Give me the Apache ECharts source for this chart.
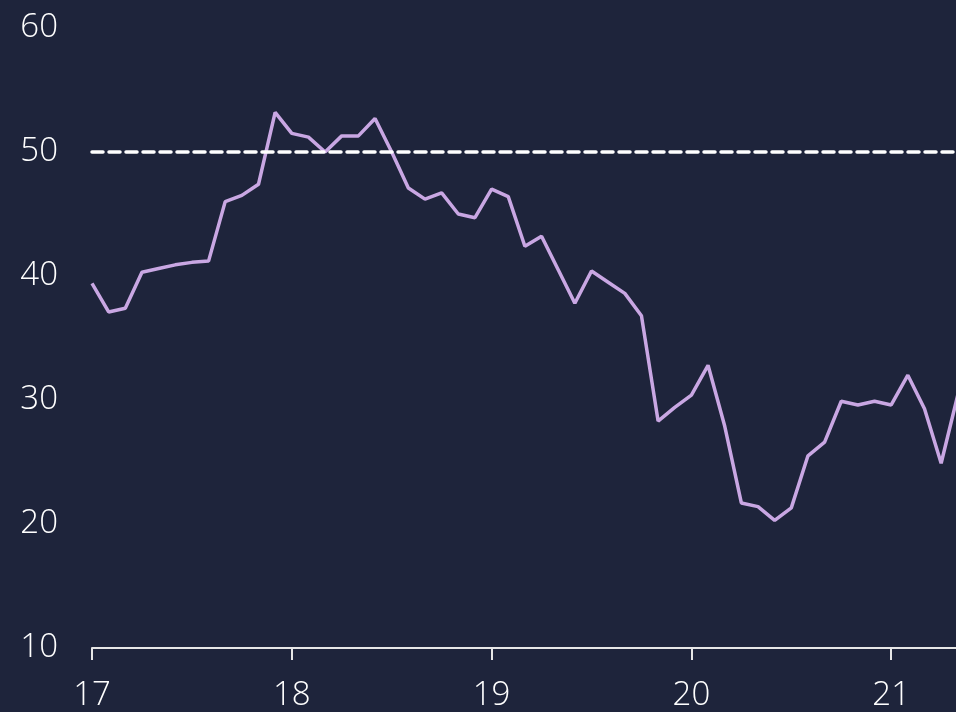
<!DOCTYPE html>
<html>
<head>
<meta charset="utf-8">
<script src="https://cdn.jsdelivr.net/npm/echarts@6/dist/echarts.min.js"></script>
<style>
html,body{margin:0;padding:0;background:#1e243b;overflow:hidden;width:956px;height:712px;position:relative;}
#chart{position:absolute;left:0;top:0;width:1200px;height:712px;}
</style>
</head>
<body>
<div id="chart"></div>
<script>
// Monthly categories, Jan 2017 .. Jan 2022
var categories = [
 '17-01','17-02','17-03','17-04','17-05','17-06','17-07','17-08','17-09','17-10','17-11','17-12',
 '18-01','18-02','18-03','18-04','18-05','18-06','18-07','18-08','18-09','18-10','18-11','18-12',
 '19-01','19-02','19-03','19-04','19-05','19-06','19-07','19-08','19-09','19-10','19-11','19-12',
 '20-01','20-02','20-03','20-04','20-05','20-06','20-07','20-08','20-09','20-10','20-11','20-12',
 '21-01','21-02','21-03','21-04','21-05','21-06','21-07','21-08','21-09','21-10','21-11','21-12',
 '22-01'
];
var values = [
 39.4, 37.1, 37.4, 40.3, 40.6, 40.9, 41.1, 41.2, 46.0, 46.5, 47.4, 53.2,
 51.5, 51.2, 50.0, 51.3, 51.3, 52.7, 50.0, 47.1, 46.2, 46.7, 45.0, 44.7,
 47.0, 46.4, 42.4, 43.2, 40.5, 37.8, 40.4, 39.5, 38.6, 36.8, 28.3, 29.4,
 30.4, 32.8, 27.9, 21.7, 21.4, 20.3, 21.3, 25.5, 26.6, 29.9, 29.6, 29.9,
 29.6, 32.0, 29.3, 24.9, 30.4
];
var thresholdValue = 50;
var yTicks = [10, 20, 30, 40, 50, 60];

var chart = echarts.init(document.getElementById('chart'));
var font = '"Open Sans", "DejaVu Sans", sans-serif';
chart.setOption({
  backgroundColor: '#1e243b',
  animation: false,
  grid: { left: 92, right: 109, top: 28, bottom: 63, containLabel: false },
  xAxis: {
    type: 'category',
    data: categories,
    boundaryGap: false,
    axisLine: { show: true, lineStyle: { color: '#e6e6e6', width: 2 } },
    axisTick: { show: true, length: 12, interval: function(i){ return i % 12 === 0; }, lineStyle: { color: '#e6e6e6', width: 2 } },
    axisLabel: {
      interval: function(i){ return i % 12 === 0; },
      formatter: function(v){ return v.slice(0,2); },
      color: '#ffffff', fontFamily: font, fontWeight: 300, fontSize: 33, margin: 31
    },
    splitLine: { show: false }
  },
  yAxis: {
    type: 'value',
    min: yTicks[0], max: yTicks[yTicks.length-1], interval: 10,
    axisLine: { show: false },
    axisTick: { show: false },
    splitLine: { show: false },
    axisLabel: { color: '#ffffff', fontFamily: font, fontWeight: 300, fontSize: 33, margin: 34 }
  },
  series: [{
    type: 'line',
    data: values,
    symbol: 'none',
    lineStyle: { color: '#c9a7e3', width: 3.5 },
    markLine: {
      silent: true,
      symbol: 'none',
      label: { show: false },
      lineStyle: { color: '#ffffff', width: 3.5, type: [11, 6], cap: 'round' },
      data: [{ yAxis: thresholdValue }]
    }
  }]
});
</script>
</body>
</html>
